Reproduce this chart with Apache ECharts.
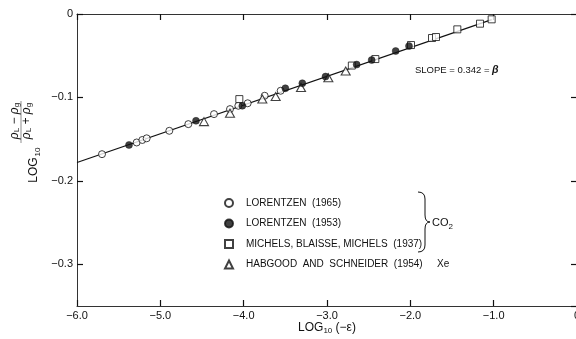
<!DOCTYPE html>
<html><head><meta charset="utf-8">
<script src="https://cdn.jsdelivr.net/npm/echarts@6/dist/echarts.min.js"></script>
<style>html,body{margin:0;padding:0;background:#fff}#c{width:576px;height:339px}</style>
</head><body><div id="c"></div>
<script>
// ---- data (x = log10(-eps), y = log10((rhoL-rhoG)/(rhoL+rhoG))) ----
const lorentzen1965 = [[-5.70,-0.168],[-5.284,-0.154],[-5.216,-0.151],[-5.164,-0.149],[-4.892,-0.140],[-4.664,-0.132],[-4.356,-0.120],[-4.164,-0.114],[-4.064,-0.110],[-3.952,-0.107],[-3.748,-0.098],[-3.556,-0.092]];
const lorentzen1953 = [[-5.376,-0.157],[-4.572,-0.128],[-4.016,-0.110],[-3.50,-0.089],[-3.296,-0.083],[-3.018,-0.075],[-2.644,-0.0606],[-2.464,-0.0552],[-2.176,-0.0444],[-2.016,-0.0384]];
const michels1937 = [[-4.052,-0.102],[-2.702,-0.0618],[-2.42,-0.054],[-1.992,-0.0372],[-1.74,-0.0288],[-1.692,-0.0276],[-1.436,-0.0184],[-1.164,-0.0116],[-1.024,-0.0064]];
const habgood1954 = [[-4.476,-0.129],[-4.164,-0.119],[-3.776,-0.102],[-3.616,-0.099],[-3.312,-0.088],[-2.984,-0.0764],[-2.776,-0.0684]];
const fitLine = [[-6.0,-0.178],[-1.024,-0.0068]];
const seriesNames = ['LORENTZEN  (1965)','LORENTZEN  (1953)','MICHELS, BLAISSE, MICHELS  (1937)','HABGOOD  AND  SCHNEIDER  (1954)'];
const xTickLabels = {'-6':'\u22126.0','-5':'\u22125.0','-4':'\u22124.0','-3':'\u22123.0','-2':'\u22122.0','-1':'\u22121.0','0':'0'};
const yTickLabels = {'0':'0','-0.1':'\u22120.1','-0.2':'\u22120.2','-0.3':'\u22120.3'};
const slopeText = 'SLOPE = 0.342 = ';

const FONT = 'Liberation Sans';
const INK = '#111';
const chart = echarts.init(document.getElementById('c'), null, {renderer:'canvas'});

function axisParts(){
  return {
    axisLine:{show:true, onZero:false, lineStyle:{color:'#333', width:1}},
    axisTick:{show:true, inside:true, length:6, lineStyle:{color:'#111', width:1.2}},
    splitLine:{show:false}
  };
}
function yFmt(v){
  const r = Math.round(v*10)/10;
  if (Math.abs(v - r) > 1e-6) return '';
  const k = String(r === 0 ? 0 : r);
  return yTickLabels[k] !== undefined ? yTickLabels[k] : '';
}
function xFmt(v){
  const k = String(Math.round(v));
  return xTickLabels[k] !== undefined ? xTickLabels[k] : '';
}

const brace = [
  {type:'bezierCurve', shape:{x1:418,y1:192,x2:425,y2:199,cpx1:425,cpy1:192}},
  {type:'line', shape:{x1:425,y1:199,x2:425,y2:215}},
  {type:'bezierCurve', shape:{x1:425,y1:215,x2:430,y2:222,cpx1:425,cpy1:222}},
  {type:'bezierCurve', shape:{x1:430,y1:222,x2:425,y2:229,cpx1:425,cpy1:222}},
  {type:'line', shape:{x1:425,y1:229,x2:425,y2:245}},
  {type:'bezierCurve', shape:{x1:425,y1:245,x2:418,y2:252,cpx1:425,cpy1:252}}
].map(e => Object.assign(e, {style:{stroke:INK, lineWidth:1, fill:null}}));

function yAxisDef(pos, showLabel){
  return Object.assign({type:'value', position:pos, min:-0.35, max:0, splitNumber:3, minInterval:0.1, maxInterval:0.1,
    axisLabel: showLabel ? {show:true, margin:4, fontFamily:FONT, fontSize:11, color:INK, showMinLabel:false, formatter:yFmt} : {show:false}
  }, axisParts());
}
function xAxisDef(pos, showLabel){
  return Object.assign({type:'value', position:pos, min:-6, max:0, interval:1,
    axisLabel: showLabel ? {show:true, margin:4, fontFamily:FONT, fontSize:11, color:INK, formatter:xFmt} : {show:false}
  }, axisParts());
}

chart.setOption({
  animation:false,
  backgroundColor:'#fff',
  grid:{left:77, width:500, top:14, height:292, containLabel:false, outerBoundsMode:'none'},
  xAxis:[xAxisDef('bottom', true), xAxisDef('top', false)],
  yAxis:[yAxisDef('left', true), yAxisDef('right', false)],
  legend:{
    orient:'vertical', left:219, top:192, itemWidth:8, itemHeight:8, itemGap:8.5,
    data:seriesNames, selectedMode:false,
    formatter:name=>'{sp|}'+name,
    textStyle:{fontFamily:FONT, fontSize:10, lineHeight:12, color:INK, rich:{sp:{width:8}}}
  },
  series:[
    {type:'line', name:'fit', data:fitLine, symbol:'none', z:1,
      lineStyle:{color:'#111', width:1.2}},
    {type:'scatter', name:seriesNames[0], data:lorentzen1965, symbol:'circle', symbolSize:7, z:3,
      itemStyle:{color:'#fff', borderColor:'#111', borderWidth:1}},
    {type:'scatter', name:seriesNames[1], data:lorentzen1953, symbol:'circle', symbolSize:7, z:4,
      itemStyle:{color:'#111', borderColor:'#111', borderWidth:0.5}},
    {type:'scatter', name:seriesNames[2], data:michels1937, symbol:'rect', symbolSize:7, z:3,
      itemStyle:{color:'#fff', borderColor:'#111', borderWidth:1}},
    {type:'scatter', name:seriesNames[3], data:habgood1954, symbol:'triangle', symbolSize:[9,8], z:3,
      itemStyle:{color:'#fff', borderColor:'#111', borderWidth:1.1}}
  ],
  graphic:[
    // y-axis title (rotated)
    {type:'text', x:34, y:170, rotation:Math.PI/2, style:{text:'LOG', font:'12px "'+FONT+'"', fill:INK, align:'center', verticalAlign:'middle'}},
    {type:'text', x:38, y:152, rotation:Math.PI/2, style:{text:'10', font:'8px "'+FONT+'"', fill:INK, align:'center', verticalAlign:'middle'}},
    {type:'text', x:15, y:121, rotation:Math.PI/2, style:{
      text:'{r|\u03c1}{s|L}{r| \u2212 \u03c1}{s|g}', align:'center', verticalAlign:'middle',
      rich:{r:{font:'italic 12px "'+FONT+'"', fill:INK}, s:{font:'8px "'+FONT+'"', fill:INK, verticalAlign:'bottom', padding:[4,0,0,0]}}}},
    {type:'line', shape:{x1:21, y1:101, x2:21, y2:143}, style:{stroke:'#444', lineWidth:0.6}},
    {type:'text', x:27, y:121, rotation:Math.PI/2, style:{
      text:'{r|\u03c1}{s|L}{r| + \u03c1}{s|g}', align:'center', verticalAlign:'middle',
      rich:{r:{font:'italic 12px "'+FONT+'"', fill:INK}, s:{font:'8px "'+FONT+'"', fill:INK, verticalAlign:'bottom', padding:[4,0,0,0]}}}},
    // x-axis title
    {type:'text', x:327, y:328, style:{
      text:'{a|LOG}{b|10}{a| (\u2212\u03b5)}', align:'center', verticalAlign:'middle',
      rich:{a:{font:'12px "'+FONT+'"', fill:INK}, b:{font:'8px "'+FONT+'"', fill:INK, padding:[6,0,0,0]}}}},
    // slope annotation
    {type:'text', x:415, y:70, style:{
      text:'{a|'+slopeText+'}{b|\u03b2}', align:'left', verticalAlign:'middle',
      rich:{a:{font:'9.5px "'+FONT+'"', fill:INK}, b:{font:'bold italic 10.5px "'+FONT+'"', fill:INK}}}},
    // brace + CO2 + Xe
    ...brace,
    {type:'text', x:432, y:223, style:{
      text:'{a|CO}{b|2}', align:'left', verticalAlign:'middle',
      rich:{a:{font:'11px "'+FONT+'"', fill:INK}, b:{font:'8px "'+FONT+'"', fill:INK, padding:[7,0,0,0]}}}},
    {type:'text', x:437, y:264, style:{text:'Xe', font:'10px "'+FONT+'"', fill:INK, align:'left', verticalAlign:'middle'}}
  ]
});
</script>
</body></html>
